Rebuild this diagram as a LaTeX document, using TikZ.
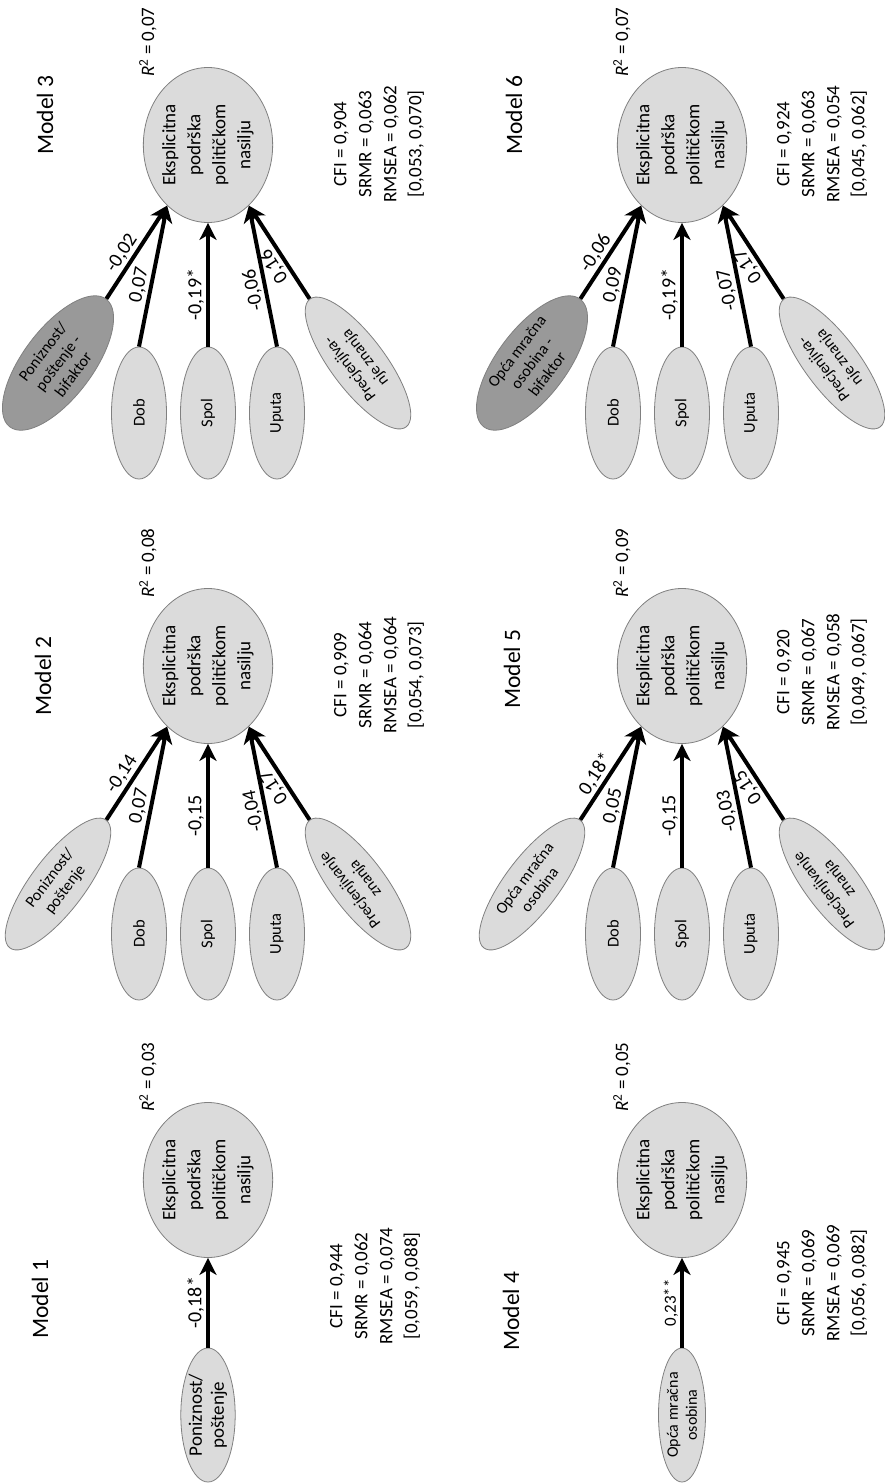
\documentclass[tikz,border=0pt]{standalone}
\usepackage{fontspec}
\setmainfont{Carlito}
\usetikzlibrary{shapes.geometric, arrows.meta}

\tikzset{
  ishod/.style={ellipse, draw=gray, line width=0.8pt, fill=gray!28, rotate=90,
    minimum width=155pt, minimum height=118pt, inner sep=0pt, align=center,
    font=\fontsize{19}{25}\selectfont},
  pred/.style={ellipse, draw=gray, line width=0.8pt, fill=gray!28, rotate=90,
    minimum width=132pt, minimum height=55pt, inner sep=0pt, align=center,
    font=\fontsize{16.5}{19}\selectfont},
  kosi/.style={ellipse, draw=gray, line width=0.8pt, fill=gray!28,
    minimum width=160pt, minimum height=54pt, inner sep=0pt, align=center,
    font=\fontsize{16}{19}\selectfont},
  bifak/.style={kosi, fill=gray!80},
  put/.style={line width=4pt, -{Stealth[length=17pt, width=17pt, inset=5pt]}},
  koef/.style={font=\fontsize{20}{24}\selectfont, sloped, above, allow upside down,
    pos=0.42, inner sep=2pt},
  naslov/.style={rotate=90, font=\fontsize{23.5}{28}\selectfont},
  rkv/.style={rotate=90, font=\fontsize{19}{23}\selectfont},
  indeksi/.style={rotate=90, align=center, font=\fontsize{19}{25}\selectfont},
}

\begin{document}
\begin{tikzpicture}[x=1pt, y=1pt]
  \useasboundingbox (0,0) rectangle (884,-1484);

  % Model 1
  \begin{scope}[shift={(208,-1180)}]
    \node[naslov] (t1) at (-168,-119) {Model 1};
    \node[ishod] (o1) at (0,0) {Eksplicitna\\podrška\\političkom\\nasilju};
    \node[rkv] (r1) at (-60,103) {\textit{R}\textsuperscript{2} = 0,03};
    \node[pred, minimum width=134pt, minimum height=47pt,
      font=\fontsize{19}{22}\selectfont] (p1) at (0,-235) {Poniznost/\\poštenje};
    \node[indeksi] (f1) at (167,-106) {CFI = 0,944\\SRMR = 0,062\\RMSEA = 0,074\\{[}0,059, 0,088]};
    \draw[put] (p1.east) -- node[koef, pos=0.5] {-0,18*} (o1.west);
  \end{scope}

  % Model 2
  \begin{scope}[shift={(208,-666)}]
    \node[naslov] (t2) at (-165,-10) {Model 2};
    \node[ishod] (o2) at (0,0) {Eksplicitna\\podrška\\političkom\\nasilju};
    \node[rkv] (r2) at (-60,103) {\textit{R}\textsuperscript{2} = 0,08};
    \node[kosi, rotate=53] (pon2) at (-150,-218) {Poniznost/\\poštenje};
    \node[pred] (dob2) at (-69,-268) {Dob};
    \node[pred] (spol2) at (0,-268) {Spol};
    \node[pred] (upt2) at (69,-268) {Uputa};
    \node[kosi, rotate=127] (prec2) at (150,-218) {Precjenjivanje\\znanja};
    \node[indeksi] (f2) at (171,-9) {CFI = 0,909\\SRMR = 0,064\\RMSEA = 0,064\\{[}0,054, 0,073]};
    \draw[put] (pon2.east) -- node[koef] {-0,14} (o2.146);
    \draw[put] (dob2.east) -- node[koef] {0,07} (o2.146);
    \draw[put] (spol2.east) -- node[koef] {-0,15} (o2.west);
    \draw[put] (upt2.east) -- node[koef] {-0,04} (o2.214);
    \draw[put] (prec2.east) -- node[koef] {0,17} (o2.214);
  \end{scope}

  % Model 3
  \begin{scope}[shift={(208,-145)}]
    \node[naslov] (t3) at (-163,30) {Model 3};
    \node[ishod] (o3) at (0,0) {Eksplicitna\\podrška\\političkom\\nasilju};
    \node[rkv] (r3) at (-60,103) {\textit{R}\textsuperscript{2} = 0,07};
    \node[bifak, rotate=53] (pon3) at (-150,-218) {Poniznost/\\poštenje -\\bifaktor};
    \node[pred] (dob3) at (-69,-268) {Dob};
    \node[pred] (spol3) at (0,-268) {Spol};
    \node[pred] (upt3) at (69,-268) {Uputa};
    \node[kosi, rotate=127] (prec3) at (150,-218) {Precjenjiva-\\nje znanja};
    \node[indeksi] (f3) at (171,1) {CFI = 0,904\\SRMR = 0,063\\RMSEA = 0,062\\{[}0,053, 0,070]};
    \draw[put] (pon3.east) -- node[koef] {-0,02} (o3.146);
    \draw[put] (dob3.east) -- node[koef] {0,07} (o3.146);
    \draw[put] (spol3.east) -- node[koef] {-0,19*} (o3.west);
    \draw[put] (upt3.east) -- node[koef] {-0,06} (o3.214);
    \draw[put] (prec3.east) -- node[koef] {0,16} (o3.214);
  \end{scope}

  % Model 4
  \begin{scope}[shift={(682,-1180)}]
    \node[naslov] (t4) at (-171,-131) {Model 4};
    \node[ishod] (o4) at (0,0) {Eksplicitna\\podrška\\političkom\\nasilju};
    \node[rkv] (r4) at (-60,103) {\textit{R}\textsuperscript{2} = 0,05};
    \node[pred, minimum width=134pt, minimum height=47pt,
      font=\fontsize{16}{19}\selectfont] (p4) at (0,-235) {Opća mračna\\osobina};
    \node[indeksi] (f4) at (140,-103) {CFI = 0,945\\SRMR = 0,069\\RMSEA = 0,069\\{[}0,056, 0,082]};
    \draw[put] (p4.east) -- node[koef, pos=0.5, font=\fontsize{17}{20}\selectfont] {0,23**} (o4.west);
  \end{scope}

  % Model 5
  \begin{scope}[shift={(682,-666)}]
    \node[naslov] (t5) at (-170,-3) {Model 5};
    \node[ishod] (o5) at (0,0) {Eksplicitna\\podrška\\političkom\\nasilju};
    \node[rkv] (r5) at (-60,103) {\textit{R}\textsuperscript{2} = 0,09};
    \node[kosi, rotate=53] (mrak5) at (-150,-218) {Opća mračna\\osobina};
    \node[pred] (dob5) at (-69,-268) {Dob};
    \node[pred] (spol5) at (0,-268) {Spol};
    \node[pred] (upt5) at (69,-268) {Uputa};
    \node[kosi, rotate=127] (prec5) at (150,-218) {Precjenjivanje\\znanja};
    \node[indeksi] (f5) at (140,-6) {CFI = 0,920\\SRMR = 0,067\\RMSEA = 0,058\\{[}0,049, 0,067]};
    \draw[put] (mrak5.east) -- node[koef] {0,18*} (o5.146);
    \draw[put] (dob5.east) -- node[koef] {0,05} (o5.146);
    \draw[put] (spol5.east) -- node[koef] {-0,15} (o5.west);
    \draw[put] (upt5.east) -- node[koef] {-0,03} (o5.214);
    \draw[put] (prec5.east) -- node[koef] {0,15} (o5.214);
  \end{scope}

  % Model 6
  \begin{scope}[shift={(682,-145)}]
    \node[naslov] (t6) at (-168,30) {Model 6};
    \node[ishod] (o6) at (0,0) {Eksplicitna\\podrška\\političkom\\nasilju};
    \node[rkv] (r6) at (-60,103) {\textit{R}\textsuperscript{2} = 0,07};
    \node[bifak, rotate=53] (mrak6) at (-150,-218) {Opća mračna\\osobina -\\bifaktor};
    \node[pred] (dob6) at (-69,-268) {Dob};
    \node[pred] (spol6) at (0,-268) {Spol};
    \node[pred] (upt6) at (69,-268) {Uputa};
    \node[kosi, rotate=127] (prec6) at (150,-218) {Precjenjiva-\\nje znanja};
    \node[indeksi] (f6) at (140,1) {CFI = 0,924\\SRMR = 0,063\\RMSEA = 0,054\\{[}0,045, 0,062]};
    \draw[put] (mrak6.east) -- node[koef] {-0,06} (o6.146);
    \draw[put] (dob6.east) -- node[koef] {0,09} (o6.146);
    \draw[put] (spol6.east) -- node[koef] {-0,19*} (o6.west);
    \draw[put] (upt6.east) -- node[koef] {-0,07} (o6.214);
    \draw[put] (prec6.east) -- node[koef] {0,17} (o6.214);
  \end{scope}
\end{tikzpicture}
\end{document}
